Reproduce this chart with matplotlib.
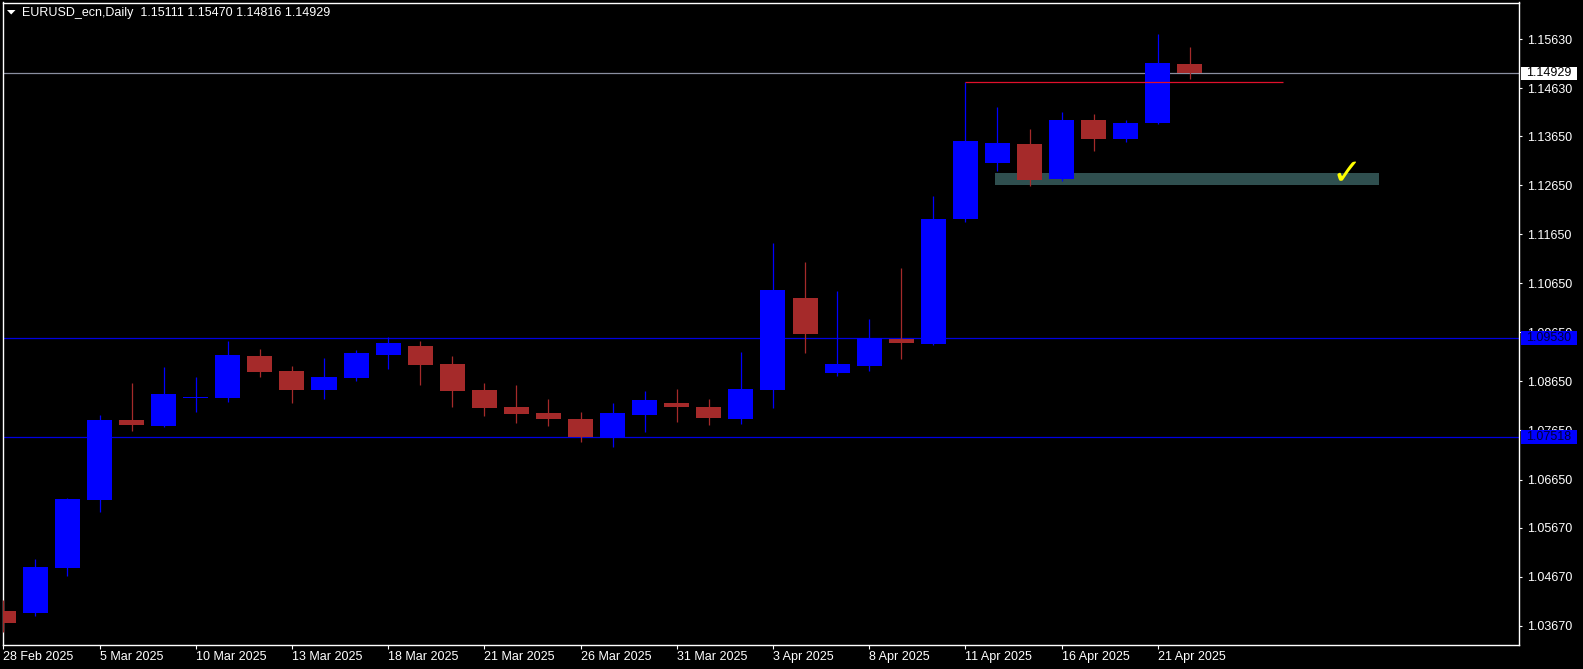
"""
EURUSD_ecn 日线蜡烛图 (MetaTrader 风格)
"""
import matplotlib
matplotlib.use('Agg')
import matplotlib.pyplot as plt
import matplotlib.patches as patches
import matplotlib.transforms as mtransforms
import numpy as np

W, H = 1583, 669

# 日期刻度
tick_idx = [0, 3, 6, 9, 12, 15, 18, 21, 24, 27, 30, 33, 36]
tick_dates = ["28 Feb 2025", "5 Mar 2025", "10 Mar 2025", "13 Mar 2025", "18 Mar 2025",
              "21 Mar 2025", "26 Mar 2025", "31 Mar 2025", "3 Apr 2025", "8 Apr 2025",
              "11 Apr 2025", "16 Apr 2025", "21 Apr 2025"]

# OHLC 数据 (28 Feb 2025 - 22 Apr 2025)
opens = [1.03970, 1.03929, 1.04852, 1.06238, 1.07863, 1.07747, 1.08302, 1.08318,
         1.09168, 1.08862, 1.08475, 1.08726, 1.09188, 1.09372, 1.09005, 1.08475,
         1.08128, 1.08006, 1.07884, 1.07502, 1.07965, 1.08210, 1.08128, 1.07884,
         1.08481, 1.10350, 1.08821, 1.08964, 1.09514, 1.09413, 1.11961, 1.13102,
         1.13490, 1.12776, 1.13979, 1.13591, 1.13918, 1.15111]
highs = [1.04194, 1.05030, 1.06273, 1.07965, 1.08617, 1.08944, 1.08740, 1.09474,
         1.09310, 1.08964, 1.09133, 1.09290, 1.09555, 1.09474, 1.09168, 1.08617,
         1.08577, 1.08291, 1.08026, 1.08210, 1.08454, 1.08495, 1.08291, 1.09249,
         1.11471, 1.11084, 1.10493, 1.09922, 1.10962, 1.12430, 1.14753, 1.14244,
         1.13795, 1.14142, 1.14101, 1.13979, 1.15732, 1.15470]
lows = [1.03541, 1.03874, 1.04689, 1.05994, 1.07645, 1.07721, 1.08032, 1.08236,
        1.08740, 1.08216, 1.08291, 1.08658, 1.08903, 1.08577, 1.08128, 1.07945,
        1.07802, 1.07741, 1.07415, 1.07313, 1.07625, 1.07822, 1.07761, 1.07788,
        1.08108, 1.09229, 1.08760, 1.08862, 1.09107, 1.09392, 1.11900, 1.12939,
        1.12640, 1.12735, 1.13347, 1.13530, 1.13898, 1.14816]
closes = [1.03731, 1.04867, 1.06253, 1.07863, 1.07761, 1.08393, 1.08322, 1.09188,
          1.08848, 1.08475, 1.08740, 1.09229, 1.09433, 1.08985, 1.08454, 1.08108,
          1.07986, 1.07884, 1.07517, 1.08006, 1.08271, 1.08128, 1.07904, 1.08495,
          1.10513, 1.09616, 1.09005, 1.09535, 1.09433, 1.11961, 1.13551, 1.13510,
          1.12756, 1.13979, 1.13591, 1.13918, 1.15141, 1.14929]

# 右侧价格刻度
price_ticks = [1.15630, 1.14630, 1.13650, 1.12650, 1.11650, 1.10650, 1.09650,
               1.08650, 1.07650, 1.06650, 1.05670, 1.04670, 1.03670]

bid = 1.14929
hlines = [1.09530, 1.07518]
resist_level = 1.14753
resist_span = (30, 39.9)
zone_x = (30.92, 42.9)
zone_y = (1.12660, 1.12898)
check_pos = (41.9, 1.12870)

BULL = '#0000FF'
BEAR = '#A52A2A'
FONT = 'Liberation Sans'


def px(x, y):
    """像素坐标 -> figure 坐标"""
    return x / W, 1 - y / H


fig = plt.figure(figsize=(W / 100, H / 100), dpi=100, facecolor='black')
l, t = px(2.5, 2.5)
r, b = px(1519, 644.7)
ax = fig.add_axes([l, b, r - l, t - b])
ax.set_facecolor('black')

n = len(opens)
x = np.arange(n)
o = np.array(opens)
c = np.array(closes)
colors = [BULL if cc >= oo else BEAR for oo, cc in zip(o, c)]

# 影线 + 实体
ax.vlines(x, lows, highs, colors=colors, lw=0.9, zorder=3)
body_h = np.maximum(np.abs(c - o), 0.00022)
ax.bar(x, body_h, bottom=np.minimum(o, c), width=0.78, color=colors,
       edgecolor='none', zorder=4)

# 支撑区域
ax.add_patch(patches.Rectangle((zone_x[0], zone_y[0]), zone_x[1] - zone_x[0],
                               zone_y[1] - zone_y[0], facecolor='#2F4F4F',
                               edgecolor='none', zorder=1))

# 水平线
ax.axhline(bid, color='#8A8FA0', lw=0.9, zorder=2)
for v in hlines:
    ax.axhline(v, color='#0000E0', lw=0.9, zorder=2)
ax.hlines(resist_level, resist_span[0], resist_span[1], color='#E0102C', lw=0.9, zorder=5)

ax.text(check_pos[0], check_pos[1], '\u2713', color='#FFFF00', fontsize=26,
        family='DejaVu Sans', fontweight='bold', ha='center', va='center', zorder=6)

ax.set_xlim((2.5 - 3.3) / 32.07, (1519 - 3.3) / 32.07)
ax.set_ylim(1.1563 - (644.7 - 39) / 4905.5, 1.1563 + (39 - 2.5) / 4905.5)

for s in ax.spines.values():
    s.set_color('white')
    s.set_linewidth(1.0)

ax.yaxis.tick_right()
ax.set_yticks(price_ticks)
ax.set_yticklabels(['%.5f' % v for v in price_ticks])
ax.set_xticks(tick_idx)
ax.set_xticklabels(tick_dates)
for lab in ax.get_xticklabels():
    lab.set_ha('left')
ax.tick_params(axis='y', colors='white', length=2.5, width=0.8, pad=3,
               labelsize=9, labelfontfamily=FONT)
ax.tick_params(axis='x', colors='white', length=3, width=0.8, pad=1.5,
               labelsize=9, labelfontfamily=FONT)

# 右侧价格标签框 (盖住下面的刻度文字)
trans = mtransforms.blended_transform_factory(fig.transFigure, ax.transData)
box_h = 13.5 / 4905.5
labels = [(bid, 'white', 'black')] + [(v, '#0000FF', '#000033') for v in hlines]
for v, fc, tc in labels:
    fig.patches.append(patches.Rectangle((1521 / W, v - box_h / 2), 56 / W, box_h,
                                         transform=trans, facecolor=fc,
                                         edgecolor='none', zorder=10))
    fig.text(1526 / W, v, '%.5f' % v, transform=trans, color=tc, fontsize=9,
             family=FONT, va='center', ha='left', zorder=11)

# 标题
tx, ty = px(22, 12.7)
fig.text(tx, ty, 'EURUSD_ecn,Daily  1.15111 1.15470 1.14816 1.14929', color='white',
         fontsize=9, family=FONT, va='center', ha='left')
tri = [px(7, 10), px(15.5, 10), px(11.2, 14.5)]
fig.patches.append(patches.Polygon(tri, closed=True, transform=fig.transFigure,
                                   facecolor='white', edgecolor='none'))

fig.savefig('out.png', dpi=100, facecolor='black')
